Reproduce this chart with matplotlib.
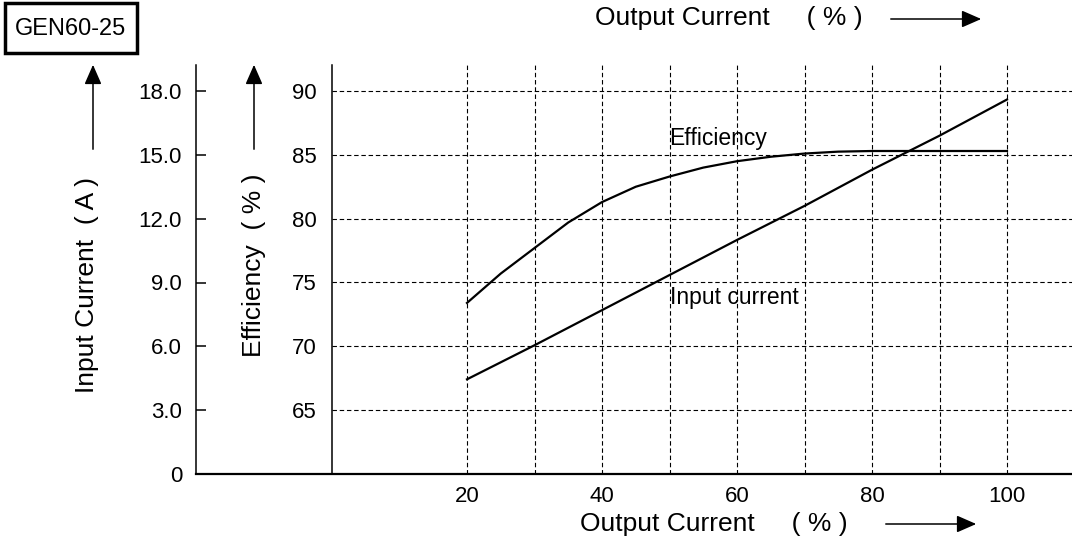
import matplotlib.pyplot as plt
from matplotlib.patches import FancyArrowPatch, Rectangle

plt.rcParams["font.family"] = ["Liberation Sans", "DejaVu Sans"]

# data
load_pct = [20, 25, 30, 35, 40, 45, 50, 55, 60, 65, 70, 75, 80, 90, 100]
efficiency = [73.4, 75.7, 77.7, 79.7, 81.3, 82.5, 83.3, 84.0, 84.5, 84.85,
              85.1, 85.25, 85.3, 85.3, 85.3]

current_pct = [20, 30, 40, 50, 60, 70, 80, 90, 100]
input_current = [4.45, 6.05, 7.7, 9.35, 11.0, 12.6, 14.3, 15.9, 17.6]

x_ticks = [20, 40, 60, 80, 100]
x_minor = [30, 50, 70, 90]
eff_ticks = [65, 70, 75, 80, 85, 90]
cur_ticks = [0, 3, 6, 9, 12, 15, 18]
cur_labels = ["0", "3.0", "6.0", "9.0", "12.0", "15.0", "18.0"]

W, H = 1072, 544
fig = plt.figure(figsize=(W / 100, H / 100), dpi=100)


def frac(left, top, right, bottom):
    return [left / W, 1 - bottom / H, (right - left) / W, (bottom - top) / H]


# pixel geometry of the plot frame
x0_px, x_right_px, top_px, base_px = 332, 1072, 65, 474
px_per_x = 6.75
xmax = (x_right_px - x0_px) / px_per_x

# efficiency axes (carries the grid)
ax_e = fig.add_axes(frac(x0_px, top_px, x_right_px, base_px))
ax_e.set_xlim(0, xmax)
ax_e.set_ylim(60, 60 + (base_px - top_px) / (383 / 30))
ax_e.patch.set_visible(False)
for s in ["top", "right", "bottom"]:
    ax_e.spines[s].set_visible(False)
ax_e.spines["left"].set_linewidth(1.1)
ax_e.set_xticks(x_ticks)
ax_e.set_xticks(x_minor, minor=True)
ax_e.set_yticks(eff_ticks)
ax_e.tick_params(axis="both", which="both", length=0, labelsize=16)
ax_e.tick_params(axis="y", pad=11)
ax_e.tick_params(axis="x", pad=9)
ax_e.grid(True, which="both", color="black", linestyle=(0, (4, 2.5)), linewidth=0.8)
ax_e.plot(load_pct, efficiency, color="black", linewidth=1.6, zorder=3)
ax_e.text(50, 86.3, "Efficiency", fontsize=16.5, ha="left", va="center")
ax_e.text(50, 73.8, "Input current", fontsize=16.5, ha="left", va="center")

# input current axes, sharing the same x scale
ax_i = fig.add_axes(frac(196, top_px, x_right_px, base_px), zorder=2)
ax_i.set_xlim(-(x0_px - 196) / px_per_x, xmax)
ax_i.set_ylim(0, (base_px - top_px) / ((base_px - 91) / 18))
ax_i.patch.set_visible(False)
for s in ["top", "right"]:
    ax_i.spines[s].set_visible(False)
ax_i.spines["left"].set_linewidth(1.1)
ax_i.spines["bottom"].set_linewidth(1.6)
ax_i.set_xticks([])
ax_i.set_yticks(cur_ticks)
ax_i.set_yticklabels(cur_labels)
ax_i.tick_params(axis="y", direction="in", length=7, width=1.1, labelsize=16, pad=10)
ax_i.plot(current_pct, input_current, color="black", linewidth=1.6)

# overlay in pixel coordinates for labels, arrows and the model box
ov = fig.add_axes([0, 0, 1, 1], zorder=3)
ov.set_xlim(0, W)
ov.set_ylim(H, 0)
ov.axis("off")


def arrow(x1, y1, x2, y2):
    ov.add_patch(FancyArrowPatch((x1, y1), (x2, y2),
                                 arrowstyle="-|>,head_length=0.8,head_width=0.35",
                                 mutation_scale=15, color="black", linewidth=1.1))


ov.add_patch(Rectangle((5, 3), 132, 50, fill=False, edgecolor="black", linewidth=2.5))
ov.text(71, 29, "GEN60-25", fontsize=17, ha="center", va="center")

ov.text(87, 285, "Input Current  ( A )", fontsize=19, rotation=90, ha="center", va="center")
arrow(93, 152, 93, 62)
ov.text(254, 265, "Efficiency  ( % )", fontsize=19, rotation=90, ha="center", va="center")
arrow(254, 152, 254, 62)

ov.text(595, 18, "Output Current     ( % )", fontsize=19, ha="left", va="center")
arrow(888, 19, 984, 19)
ov.text(580, 524, "Output Current     ( % )", fontsize=19, ha="left", va="center")
arrow(883, 524, 979, 524)

fig.savefig("out.png", dpi=100)
